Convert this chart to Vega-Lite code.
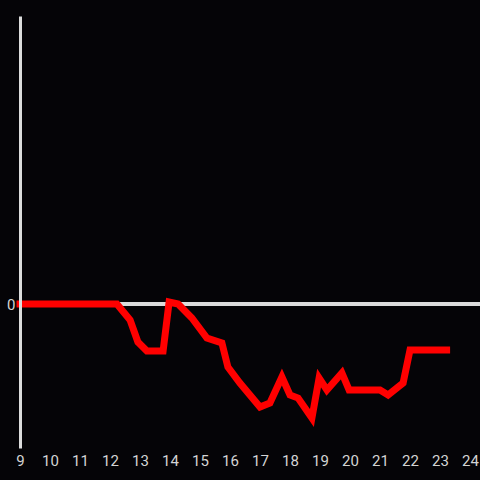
{
  "$schema": "https://vega.github.io/schema/vega-lite/v6.json",
  "width": 460,
  "height": 432,
  "autosize": {"type": "none"},
  "padding": {"left": 20, "top": 16, "right": 0, "bottom": 32},
  "background": "#050407",
  "config": {
    "view": {"stroke": null},
    "axis": {"labelFont": "Roboto", "labelFontSize": 15, "labelColor": "#d4d4d4", "grid": false, "ticks": false}
  },
  "data": {"values": [
    {"t": 9.0, "v": 0},
    {"t": 12.23, "v": 0},
    {"t": 12.67, "v": -11.1},
    {"t": 12.93, "v": -26.4},
    {"t": 13.23, "v": -32.6},
    {"t": 13.77, "v": -32.6},
    {"t": 13.97, "v": 1.4},
    {"t": 14.27, "v": 0},
    {"t": 14.73, "v": -9.7},
    {"t": 15.23, "v": -23.6},
    {"t": 15.73, "v": -27.1},
    {"t": 15.93, "v": -43.75},
    {"t": 16.33, "v": -54.9},
    {"t": 17.0, "v": -71.5},
    {"t": 17.33, "v": -68.75},
    {"t": 17.73, "v": -50.7},
    {"t": 18.0, "v": -63.2},
    {"t": 18.27, "v": -65.3},
    {"t": 18.73, "v": -79.2},
    {"t": 18.97, "v": -51.4},
    {"t": 19.23, "v": -59.7},
    {"t": 19.73, "v": -47.9},
    {"t": 19.97, "v": -59.7},
    {"t": 21.0, "v": -59.7},
    {"t": 21.27, "v": -63.2},
    {"t": 21.77, "v": -54.9},
    {"t": 22.0, "v": -31.9},
    {"t": 23.22, "v": -31.9}
  ]},
  "layer": [
    {
      "mark": {"type": "rule", "color": "#dcdcdc", "strokeWidth": 3},
      "encoding": {"y": {"datum": 0, "type": "quantitative", "scale": {"domain": [-100, 200]}}}
    },
    {
      "mark": {"type": "line", "color": "#ff0000", "strokeWidth": 7, "strokeCap": "square", "strokeJoin": "miter"},
      "encoding": {
        "x": {"field": "t", "type": "quantitative", "scale": {"domain": [9, 24.3333], "nice": false, "zero": false},
              "axis": {"values": [9,10,11,12,13,14,15,16,17,18,19,20,21,22,23,24], "domain": false, "labelPadding": 5, "title": null, "labelFlush": false}},
        "y": {"field": "v", "type": "quantitative", "scale": {"domain": [-100, 200], "nice": false},
              "axis": {"values": [0], "domain": true, "domainColor": "#dcdcdc", "domainWidth": 3, "labelPadding": 5, "title": null, "zindex": 1}}
      }
    }
  ]
}
